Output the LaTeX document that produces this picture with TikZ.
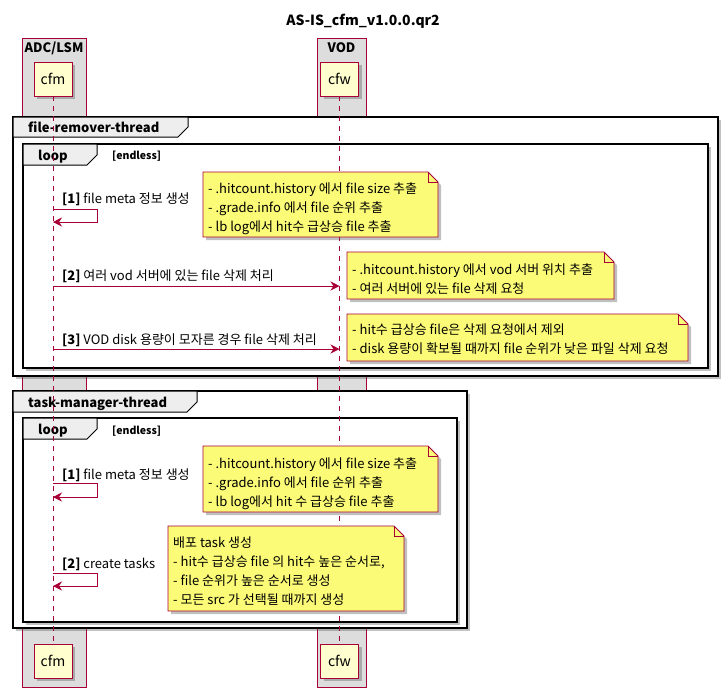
\documentclass[tikz,border=0pt]{standalone}
\usepackage{fontspec}
\setmainfont{Noto Sans CJK KR}
\usetikzlibrary{shadows,arrows.meta}
\definecolor{umlred}{HTML}{A80036}
\definecolor{partfill}{HTML}{FEFECE}
\definecolor{notefill}{HTML}{FBFB77}
\definecolor{boxfill}{HTML}{DDDDDD}
\definecolor{tabfill}{HTML}{EEEEEE}
\tikzset{
  shadowed/.style={drop shadow={shadow xshift=3pt, shadow yshift=-3pt, opacity=0.35, fill=black!70}},
  partbox/.style={draw=umlred, fill=partfill, line width=0.9pt, minimum width=38pt, minimum height=34pt, inner sep=0pt, font=\fontsize{14}{16}\selectfont, shadowed},
  groupbox/.style={draw=umlred, fill=boxfill, line width=0.9pt},
  grouplabel/.style={font=\bfseries\fontsize{13}{15}\selectfont, anchor=base, inner sep=0pt},
  lifeline/.style={draw=umlred, line width=0.8pt, dash pattern=on 5pt off 5pt},
  frame/.style={draw=black, line width=1.6pt, fill=white, shadowed},
  frametab/.style={draw=black, line width=1pt, fill=tabfill},
  frametitle/.style={font=\bfseries\fontsize{13}{15}\selectfont, anchor=base west, inner sep=0pt},
  guardtext/.style={font=\bfseries\fontsize{10.5}{12}\selectfont, anchor=base west, inner sep=0pt},
  msgtext/.style={font=\fontsize{13}{15}\selectfont, anchor=base west, inner sep=0pt},
  msg/.style={draw=umlred, line width=0.9pt, -{Stealth[length=9pt,width=9pt,inset=3pt]}},
  notestyle/.style={draw=umlred, fill=notefill, line width=0.9pt, shadowed},
  notetext/.style={font=\fontsize{13}{15}\selectfont, inner sep=0pt, anchor=base west},
}
\newcommand\umlnote[7]{%
  \path[notestyle] (#2,#3) -- ({#4-10},#3) -- (#4,{#3+10}) -- (#4,#5) -- (#2,#5) -- cycle;
  \draw[umlred, line width=0.9pt] ({#4-10},#3) -- ({#4-10},{#3+10}) -- (#4,{#3+10});
  \foreach \ln [count=\k] in {#7} {\node[notetext] (#1-\k) at ({#2+5},{#6+(\k-1)*19}) {\ln};}
}
\newcommand\umlframe[9]{% name, l, t, r, b, tabr, tabb, title, titlestyle
  \path[frame] (#2,#3) rectangle (#4,#5);
  \path[frametab] (#2,#3) -- (#6,#3) -- (#6,{#7-10}) -- ({#6-10},#7) -- (#2,#7) -- cycle;
  \node[#9] (#1) at ({#2+15},{#7-5}) {#8};
}
\begin{document}
\begin{tikzpicture}[x=1pt,y=-1pt]
\useasboundingbox (0,0) rectangle (726,697);
\node[font=\bfseries\fontsize{14}{16}\selectfont, anchor=base, inner sep=0pt] (title) at (363,25) {AS-IS\_cfm\_v1.0.0.qr2};
% participant groups
\path[groupbox] (22,38) rectangle (86,687);
\path[groupbox] (317,38) rectangle (366,687);
\node[grouplabel] (adc) at (54,52) {ADC/LSM};
\node[grouplabel] (vod) at (341.5,52) {VOD};
% frames
\umlframe{frt}{13}{117}{718}{376}{188}{137}{file-remover-thread}{frametitle}
\umlframe{loop1}{23}{144}{708}{368}{97}{165}{loop}{frametitle}
\node[guardtext] (g1) at (112,159) {[endless]};
\umlframe{tmt}{13}{391}{467}{628}{197}{412}{task-manager-thread}{frametitle}
\umlframe{loop2}{23}{418}{457}{622}{97}{439}{loop}{frametitle}
\node[guardtext] (g2) at (112,434) {[endless]};
% participants
\node[partbox] (cfmT) at (53,79) {cfm};
\node[partbox] (cfwT) at (339.5,79) {cfw};
\node[partbox] (cfmB) at (53,661) {cfm};
\node[partbox] (cfwB) at (339.5,661) {cfw};
\path[lifeline] (cfmT.south) -- (cfmB.north);
\path[lifeline] (cfwT.south) -- (cfwB.north);
% notes
\umlnote{n1}{203}{172}{438}{237}{193}{- .hitcount.history 에서 file size 추출, - .grade.info 에서 file 순위 추출, - lb log에서 hit수 급상승 file 추출}
\umlnote{n2}{347}{252}{614}{299}{274}{- .hitcount.history 에서 vod 서버 위치 추출, - 여러 서버에 있는 file 삭제 요청}
\umlnote{n3}{347}{314}{688}{361}{334}{- hit수 급상승 file은 삭제 요청에서 제외, - disk 용량이 확보될 때까지 file 순위가 낮은 파일 삭제 요청}
\umlnote{n4}{203}{446}{438}{512}{468}{- .hitcount.history 에서 file size 추출, - .grade.info 에서 file 순위 추출, - lb log에서 hit 수 급상승 file 추출}
\umlnote{n5}{168}{526}{404}{611}{547}{배포 task 생성, {- hit수 급상승 file 의 hit수 높은 순서로,}, - file 순위가 높은 순서로 생성, - 모든 src 가 선택될 때까지 생성}
% messages
\coordinate (a1s) at (cfmT.south |- 0,209);
\coordinate (a1e) at (cfmT.south |- 0,222);
\draw[msg] (a1s) -- ++(44,0) |- (a1e);
\node[msgtext] (m1) at (62,203) {\textbf{[1]} file meta 정보 생성};
\coordinate (a2s) at (cfmT.south |- 0,286);
\coordinate (a2e) at (cfwT.south |- 0,286);
\draw[msg] (a2s) -- (a2e);
\node[msgtext] (m2) at (62,280) {\textbf{[2]} 여러 vod 서버에 있는 file 삭제 처리};
\coordinate (a3s) at (cfmT.south |- 0,349);
\coordinate (a3e) at (cfwT.south |- 0,349);
\draw[msg] (a3s) -- (a3e);
\node[msgtext] (m3) at (62,344) {\textbf{[3]} VOD disk 용량이 모자른 경우 file 삭제 처리};
\coordinate (a4s) at (cfmT.south |- 0,483);
\coordinate (a4e) at (cfmT.south |- 0,497);
\draw[msg] (a4s) -- ++(44,0) |- (a4e);
\node[msgtext] (m4) at (62,479) {\textbf{[1]} file meta 정보 생성};
\coordinate (a5s) at (cfmT.south |- 0,573);
\coordinate (a5e) at (cfmT.south |- 0,586);
\draw[msg] (a5s) -- ++(44,0) |- (a5e);
\node[msgtext] (m5) at (62,568) {\textbf{[2]} create tasks};
\end{tikzpicture}
\end{document}
